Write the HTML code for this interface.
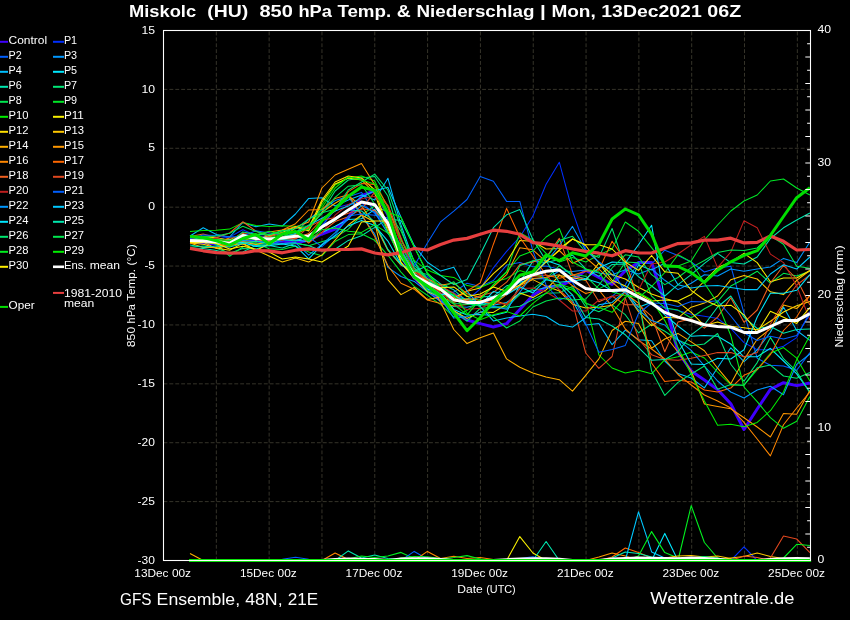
<!DOCTYPE html><html><head><meta charset="utf-8"><title>Miskolc GFS Ensemble</title>
<style>html,body{margin:0;padding:0;background:#000;}svg{display:block;will-change:transform;opacity:0.999}text{font-family:"Liberation Sans",sans-serif;fill:#fff}</style></head><body>
<svg width="850" height="620" viewBox="0 0 850 620">
<rect width="850" height="620" fill="#000"/>
<g stroke="#37352b" stroke-width="1" stroke-dasharray="3.9 2" fill="none">
<line x1="216.32" y1="560.5" x2="216.32" y2="30.5"/>
<line x1="269.14" y1="560.5" x2="269.14" y2="30.5"/>
<line x1="321.96" y1="560.5" x2="321.96" y2="30.5"/>
<line x1="374.78" y1="560.5" x2="374.78" y2="30.5"/>
<line x1="427.60" y1="560.5" x2="427.60" y2="30.5"/>
<line x1="480.42" y1="560.5" x2="480.42" y2="30.5"/>
<line x1="533.24" y1="560.5" x2="533.24" y2="30.5"/>
<line x1="586.06" y1="560.5" x2="586.06" y2="30.5"/>
<line x1="638.88" y1="560.5" x2="638.88" y2="30.5"/>
<line x1="691.70" y1="560.5" x2="691.70" y2="30.5"/>
<line x1="744.52" y1="560.5" x2="744.52" y2="30.5"/>
<line x1="797.34" y1="560.5" x2="797.34" y2="30.5"/>
<line x1="163.5" y1="501.61" x2="810.5" y2="501.61"/>
<line x1="163.5" y1="442.72" x2="810.5" y2="442.72"/>
<line x1="163.5" y1="383.83" x2="810.5" y2="383.83"/>
<line x1="163.5" y1="324.94" x2="810.5" y2="324.94"/>
<line x1="163.5" y1="266.06" x2="810.5" y2="266.06"/>
<line x1="163.5" y1="207.17" x2="810.5" y2="207.17"/>
<line x1="163.5" y1="148.28" x2="810.5" y2="148.28"/>
<line x1="163.5" y1="89.39" x2="810.5" y2="89.39"/>
</g>
<clipPath id="c"><rect x="163.5" y="29.5" width="647.5" height="533.0"/></clipPath>
<g clip-path="url(#c)">
<polyline points="190.0,242.0 203.2,243.0 216.4,244.0 229.6,246.0 242.8,239.0 255.9,241.0 269.1,242.0 282.3,241.0 295.5,243.0 308.7,240.0 321.9,234.0 335.1,229.0 348.3,218.0 361.5,196.0 374.7,190.5 387.9,215.0 401.0,256.0 414.2,278.0 427.4,290.0 440.6,300.0 453.8,312.0 467.0,320.0 480.2,323.6 493.4,327.0 506.6,323.6 519.8,309.5 532.9,295.3 546.1,287.0 559.3,286.0 572.5,280.4 585.7,270.3 598.9,277.4 612.1,284.5 625.3,270.7 638.5,262.5 651.6,262.5 664.8,303.0 678.0,352.0 691.2,371.0 704.4,380.0 717.6,389.6 730.8,403.8 744.0,429.5 757.2,409.0 770.4,389.3 783.5,382.7 796.7,385.6 809.9,383.0" fill="none" stroke="#4000ff" stroke-width="3.0" stroke-linejoin="round" />
<polyline points="190.0,238.8 203.2,238.9 216.4,239.0 229.6,237.1 242.8,229.8 255.9,235.6 269.1,236.9 282.3,238.2 295.5,236.9 308.7,235.6 321.9,227.0 335.1,208.1 348.3,204.5 361.5,202.9 374.7,213.7 387.9,226.7 401.0,254.2 414.2,268.1 427.4,276.8 440.6,288.5 453.8,292.9 467.0,300.0 480.2,289.0 493.4,267.8 506.6,251.3 519.8,237.2 532.9,216.0 546.1,184.2 559.3,162.2 572.5,211.2 585.7,249.0 598.9,262.0 612.1,275.0 625.3,288.0 638.5,298.0 651.6,304.0 664.8,307.8 678.0,310.6 691.2,314.2 704.4,316.3 717.6,318.5 730.8,328.4 744.0,342.6 757.2,349.7 770.4,349.7 783.5,346.2 796.7,337.6 809.9,311.4" fill="none" stroke="#0030ff" stroke-width="1.05" stroke-linejoin="round" />
<polyline points="190.0,238.7 203.2,240.9 216.4,243.2 229.6,244.8 242.8,243.0 255.9,245.7 269.1,245.4 282.3,240.4 295.5,240.2 308.7,236.7 321.9,225.4 335.1,209.8 348.3,196.7 361.5,192.4 374.7,211.7 387.9,225.8 401.0,256.0 414.2,271.9 427.4,283.5 440.6,293.9 453.8,292.1 467.0,283.3 480.2,286.5 493.4,280.5 506.6,265.1 519.8,262.6 532.9,266.7 546.1,265.9 559.3,269.2 572.5,282.4 585.7,303.2 598.9,308.6 612.1,296.3 625.3,284.8 638.5,261.7 651.6,264.0 664.8,250.2 678.0,255.5 691.2,262.0 704.4,272.0 717.6,268.0 730.8,266.2 744.0,313.0 757.2,358.2 770.4,365.3 783.5,366.0 796.7,370.3 809.9,352.6" fill="none" stroke="#0060ff" stroke-width="1.05" stroke-linejoin="round" />
<polyline points="190.0,241.8 203.2,241.2 216.4,241.5 229.6,239.4 242.8,238.0 255.9,237.0 269.1,238.9 282.3,240.8 295.5,233.5 308.7,219.1 321.9,209.8 335.1,200.6 348.3,196.4 361.5,215.4 374.7,234.1 387.9,267.4 401.0,276.5 414.2,281.4 427.4,291.9 440.6,301.5 453.8,306.6 467.0,307.2 480.2,304.0 493.4,299.3 506.6,293.2 519.8,282.2 532.9,278.6 546.1,278.7 559.3,271.0 572.5,271.4 585.7,270.1 598.9,273.0 612.1,274.7 625.3,269.7 638.5,274.0 651.6,269.0 664.8,280.3 678.0,289.6 691.2,283.2 704.4,274.7 717.6,276.0 730.8,269.0 744.0,271.2 757.2,269.0 770.4,267.0 783.5,258.4 796.7,262.6 809.9,242.0" fill="none" stroke="#0098ff" stroke-width="1.05" stroke-linejoin="round" />
<polyline points="190.0,236.0 203.2,227.8 216.4,234.5 229.6,237.0 242.8,222.4 255.9,226.8 269.1,224.0 282.3,226.0 295.5,214.0 308.7,198.4 321.9,197.8 335.1,206.0 348.3,200.0 361.5,195.0 374.7,200.0 387.9,178.2 401.0,225.0 414.2,262.0 427.4,281.8 440.6,285.0 453.8,296.5 467.0,299.5 480.2,302.3 493.4,305.3 506.6,302.4 519.8,293.2 532.9,290.8 546.1,287.4 559.3,284.6 572.5,300.6 585.7,324.9 598.9,323.6 612.1,344.7 625.3,330.1 638.5,339.7 651.6,340.7 664.8,361.0 678.0,373.6 691.2,378.0 704.4,387.9 717.6,367.7 730.8,347.8 744.0,361.7 757.2,349.8 770.4,332.2 783.5,307.0 796.7,330.5 809.9,340.4" fill="none" stroke="#00c0ff" stroke-width="1.05" stroke-linejoin="round" />
<polyline points="190.0,238.5 203.2,240.4 216.4,244.2 229.6,243.5 242.8,241.3 255.9,244.3 269.1,243.9 282.3,237.7 295.5,240.1 308.7,241.8 321.9,232.5 335.1,226.2 348.3,219.5 361.5,218.8 374.7,209.4 387.9,226.7 401.0,249.6 414.2,277.8 427.4,289.1 440.6,292.8 453.8,309.4 467.0,315.0 480.2,314.5 493.4,315.5 506.6,312.3 519.8,284.5 532.9,275.3 546.1,260.4 559.3,265.0 572.5,275.8 585.7,278.8 598.9,282.8 612.1,290.9 625.3,290.8 638.5,307.3 651.6,302.2 664.8,314.8 678.0,326.0 691.2,336.2 704.4,335.5 717.6,336.2 730.8,344.0 744.0,356.8 757.2,356.8 770.4,348.3 783.5,361.0 796.7,373.9 809.9,392.0" fill="none" stroke="#00e8ff" stroke-width="1.05" stroke-linejoin="round" />
<polyline points="190.0,248.0 203.2,248.6 216.4,250.5 229.6,253.8 242.8,251.9 255.9,245.4 269.1,245.6 282.3,247.9 295.5,243.3 308.7,245.4 321.9,251.0 335.1,249.2 348.3,240.4 361.5,235.8 374.7,227.4 387.9,219.0 401.0,220.4 414.2,246.7 427.4,273.7 440.6,284.0 453.8,289.8 467.0,301.3 480.2,297.1 493.4,296.3 506.6,285.8 519.8,282.4 532.9,261.1 546.1,262.6 559.3,259.5 572.5,255.2 585.7,268.9 598.9,276.4 612.1,264.4 625.3,264.0 638.5,276.7 651.6,286.0 664.8,296.0 678.0,284.6 691.2,274.7 704.4,263.4 717.6,253.4 730.8,262.6 744.0,264.0 757.2,257.0 770.4,238.5 783.5,227.8 796.7,220.0 809.9,213.0" fill="none" stroke="#00e8b0" stroke-width="1.05" stroke-linejoin="round" />
<polyline points="190.0,247.3 203.2,246.1 216.4,248.2 229.6,253.2 242.8,248.5 255.9,249.1 269.1,245.1 282.3,234.8 295.5,226.7 308.7,230.0 321.9,212.0 335.1,191.0 348.3,180.0 361.5,178.0 374.7,176.5 387.9,196.0 401.0,240.0 414.2,265.2 427.4,278.9 440.6,293.1 453.8,310.8 467.0,321.0 480.2,308.3 493.4,307.4 506.6,308.0 519.8,306.3 532.9,299.6 546.1,293.3 559.3,292.8 572.5,286.5 585.7,306.8 598.9,311.7 612.1,304.9 625.3,314.7 638.5,332.8 651.6,324.3 664.8,331.2 678.0,340.1 691.2,345.7 704.4,344.0 717.6,333.5 730.8,364.3 744.0,381.2 757.2,362.6 770.4,337.4 783.5,358.7 796.7,371.4 809.9,393.1" fill="none" stroke="#00e878" stroke-width="1.05" stroke-linejoin="round" />
<polyline points="190.0,238.0 203.2,240.0 216.4,244.0 229.6,256.2 242.8,247.0 255.9,243.0 269.1,244.3 282.3,243.4 295.5,242.9 308.7,245.7 321.9,241.7 335.1,237.4 348.3,229.1 361.5,215.1 374.7,205.7 387.9,212.0 401.0,231.0 414.2,261.2 427.4,279.3 440.6,287.1 453.8,295.9 467.0,300.8 480.2,304.4 493.4,306.4 506.6,306.7 519.8,294.6 532.9,289.2 546.1,278.9 559.3,265.7 572.5,274.2 585.7,276.2 598.9,288.9 612.1,282.0 625.3,262.1 638.5,262.8 651.6,296.2 664.8,307.9 678.0,310.1 691.2,318.0 704.4,308.8 717.6,301.7 730.8,286.0 744.0,279.0 757.2,271.2 770.4,283.2 783.5,273.3 796.7,276.0 809.9,271.2" fill="none" stroke="#00e850" stroke-width="1.05" stroke-linejoin="round" />
<polyline points="190.0,241.1 203.2,241.2 216.4,244.1 229.6,244.9 242.8,241.6 255.9,242.9 269.1,248.7 282.3,249.4 295.5,245.9 308.7,252.1 321.9,255.8 335.1,241.5 348.3,234.6 361.5,233.7 374.7,240.3 387.9,255.3 401.0,272.1 414.2,286.4 427.4,295.3 440.6,304.6 453.8,316.8 467.0,310.5 480.2,300.2 493.4,284.6 506.6,272.0 519.8,232.8 532.9,239.9 546.1,253.4 559.3,262.0 572.5,257.6 585.7,262.0 598.9,255.0 612.1,249.0 625.3,222.0 638.5,231.3 651.6,247.7 664.8,264.7 678.0,266.0 691.2,261.0 704.4,240.0 717.6,225.0 730.8,211.0 744.0,201.0 757.2,195.0 770.4,181.0 783.5,179.0 796.7,188.0 809.9,195.0" fill="none" stroke="#00e828" stroke-width="1.05" stroke-linejoin="round" />
<polyline points="190.0,231.5 203.2,230.4 216.4,230.3 229.6,229.1 242.8,222.6 255.9,225.4 269.1,226.5 282.3,225.7 295.5,226.2 308.7,226.0 321.9,205.0 335.1,185.0 348.3,178.0 361.5,176.0 374.7,181.0 387.9,208.0 401.0,240.1 414.2,260.4 427.4,270.1 440.6,275.5 453.8,277.4 467.0,285.6 480.2,287.6 493.4,281.9 506.6,278.4 519.8,270.6 532.9,274.6 546.1,278.1 559.3,287.0 572.5,290.0 585.7,301.0 598.9,355.0 612.1,368.0 625.3,373.0 638.5,370.3 651.6,373.8 664.8,359.6 678.0,356.8 691.2,352.0 704.4,358.0 717.6,372.0 730.8,385.0 744.0,385.2 757.2,369.6 770.4,353.3 783.5,347.6 796.7,358.2 809.9,381.0" fill="none" stroke="#00f000" stroke-width="1.05" stroke-linejoin="round" />
<polyline points="190.0,236.9 203.2,236.7 216.4,237.8 229.6,240.3 242.8,233.3 255.9,240.3 269.1,235.4 282.3,232.5 295.5,226.6 308.7,231.0 321.9,202.0 335.1,184.0 348.3,178.0 361.5,180.0 374.7,193.0 387.9,232.0 401.0,251.2 414.2,277.2 427.4,291.4 440.6,297.2 453.8,310.6 467.0,318.4 480.2,312.1 493.4,312.4 506.6,304.2 519.8,292.9 532.9,297.6 546.1,289.9 559.3,275.4 572.5,277.7 585.7,280.2 598.9,263.0 612.1,280.3 625.3,286.0 638.5,293.8 651.6,301.0 664.8,300.0 678.0,301.0 691.2,294.5 704.4,281.0 717.6,267.6 730.8,262.0 744.0,253.4 757.2,262.6 770.4,281.8 783.5,278.0 796.7,278.0 809.9,270.5" fill="none" stroke="#f8f000" stroke-width="1.05" stroke-linejoin="round" />
<polyline points="190.0,243.1 203.2,244.2 216.4,247.9 229.6,250.2 242.8,243.1 255.9,250.5 269.1,243.9 282.3,237.9 295.5,227.9 308.7,228.0 321.9,200.0 335.1,182.0 348.3,176.0 361.5,178.0 374.7,190.0 387.9,228.0 401.0,263.1 414.2,277.8 427.4,284.3 440.6,290.8 453.8,297.7 467.0,291.2 480.2,287.9 493.4,273.7 506.6,262.0 519.8,240.6 532.9,241.3 546.1,249.0 559.3,248.4 572.5,239.0 585.7,245.5 598.9,263.3 612.1,274.7 625.3,279.0 638.5,287.3 651.6,294.0 664.8,298.5 678.0,301.9 691.2,312.4 704.4,325.6 717.6,322.0 730.8,326.3 744.0,327.7 757.2,329.8 770.4,321.3 783.5,312.0 796.7,305.7 809.9,301.4" fill="none" stroke="#ffe000" stroke-width="1.05" stroke-linejoin="round" />
<polyline points="190.0,241.3 203.2,242.1 216.4,248.4 229.6,244.9 242.8,244.1 255.9,250.0 269.1,256.0 282.3,262.0 295.5,258.0 308.7,262.0 321.9,255.0 335.1,240.0 348.3,225.0 361.5,215.0 374.7,222.0 387.9,279.7 401.0,294.6 414.2,287.5 427.4,299.6 440.6,297.0 453.8,302.2 467.0,298.8 480.2,300.3 493.4,304.7 506.6,294.4 519.8,285.4 532.9,279.6 546.1,286.1 559.3,291.1 572.5,304.2 585.7,308.1 598.9,307.2 612.1,305.2 625.3,292.3 638.5,311.6 651.6,325.8 664.8,317.2 678.0,317.9 691.2,307.2 704.4,303.1 717.6,296.0 730.8,279.7 744.0,275.4 757.2,279.0 770.4,291.8 783.5,294.6 796.7,280.4 809.9,270.5" fill="none" stroke="#ffc800" stroke-width="1.05" stroke-linejoin="round" />
<polyline points="190.0,243.0 203.2,247.6 216.4,247.5 229.6,242.8 242.8,242.1 255.9,244.6 269.1,241.3 282.3,236.8 295.5,234.3 308.7,227.9 321.9,212.3 335.1,203.2 348.3,195.6 361.5,206.0 374.7,224.6 387.9,250.2 401.0,265.1 414.2,272.0 427.4,281.0 440.6,302.0 453.8,329.5 467.0,343.6 480.2,337.7 493.4,333.0 506.6,358.9 519.8,367.2 532.9,373.0 546.1,377.0 559.3,379.7 572.5,391.2 585.7,375.4 598.9,358.9 612.1,330.5 625.3,321.3 638.5,323.4 651.6,348.3 664.8,339.0 678.0,333.4 691.2,341.9 704.4,350.8 717.6,368.2 730.8,383.8 744.0,359.5 757.2,339.3 770.4,328.9 783.5,304.9 796.7,308.5 809.9,295.9" fill="none" stroke="#ffb000" stroke-width="1.05" stroke-linejoin="round" />
<polyline points="190.0,241.8 203.2,240.9 216.4,241.6 229.6,242.7 242.8,241.5 255.9,235.8 269.1,232.0 282.3,230.0 295.5,227.0 308.7,222.0 321.9,188.0 335.1,175.0 348.3,169.2 361.5,163.5 374.7,184.8 387.9,215.0 401.0,250.0 414.2,271.9 427.4,278.8 440.6,285.2 453.8,283.1 467.0,293.7 480.2,297.5 493.4,286.6 506.6,274.7 519.8,247.7 532.9,249.8 546.1,261.9 559.3,250.5 572.5,263.3 585.7,257.6 598.9,269.0 612.1,282.1 625.3,293.5 638.5,303.1 651.6,323.0 664.8,335.0 678.0,352.0 691.2,371.0 704.4,404.0 717.6,406.4 730.8,408.8 744.0,417.7 757.2,427.0 770.4,437.0 783.5,413.5 796.7,414.2 809.9,390.6" fill="none" stroke="#ff9800" stroke-width="1.05" stroke-linejoin="round" />
<polyline points="190.0,241.0 203.2,240.8 216.4,242.3 229.6,238.0 242.8,237.8 255.9,237.8 269.1,236.9 282.3,229.9 295.5,223.7 308.7,210.0 321.9,209.5 335.1,198.4 348.3,194.8 361.5,214.3 374.7,236.5 387.9,265.8 401.0,283.3 414.2,289.2 427.4,300.0 440.6,303.5 453.8,306.1 467.0,304.4 480.2,300.8 493.4,300.3 506.6,304.6 519.8,288.6 532.9,278.4 546.1,277.3 559.3,274.7 572.5,285.8 585.7,293.5 598.9,290.0 612.1,306.4 625.3,329.0 638.5,340.4 651.6,349.0 664.8,359.0 678.0,374.5 691.2,385.0 704.4,395.0 717.6,401.0 730.8,408.0 744.0,422.4 757.2,439.0 770.4,455.9 783.5,424.8 796.7,408.0 809.9,391.8" fill="none" stroke="#ff8800" stroke-width="1.05" stroke-linejoin="round" />
<polyline points="190.0,242.1 203.2,242.3 216.4,243.6 229.6,246.6 242.8,240.7 255.9,241.8 269.1,239.0 282.3,237.9 295.5,238.5 308.7,233.5 321.9,219.0 335.1,211.2 348.3,191.6 361.5,183.6 374.7,184.5 387.9,206.1 401.0,243.8 414.2,268.4 427.4,281.4 440.6,293.4 453.8,300.0 467.0,291.0 480.2,283.0 493.4,244.2 506.6,208.4 519.8,237.2 532.9,256.0 546.1,275.0 559.3,278.2 572.5,275.3 585.7,271.2 598.9,270.0 612.1,241.3 625.3,260.5 638.5,300.0 651.6,363.0 664.8,381.6 678.0,380.0 691.2,382.0 704.4,390.0 717.6,392.0 730.8,388.0 744.0,375.3 757.2,369.6 770.4,354.7 783.5,330.5 796.7,317.0 809.9,295.0" fill="none" stroke="#ff6800" stroke-width="1.05" stroke-linejoin="round" />
<polyline points="190.0,236.5 203.2,234.0 216.4,237.5 229.6,233.0 242.8,221.8 255.9,231.0 269.1,237.0 282.3,233.0 295.5,232.6 308.7,243.2 321.9,232.1 335.1,221.5 348.3,216.7 361.5,208.8 374.7,210.4 387.9,226.3 401.0,256.1 414.2,276.7 427.4,284.5 440.6,287.8 453.8,297.8 467.0,300.8 480.2,295.8 493.4,292.3 506.6,282.2 519.8,264.6 532.9,262.0 546.1,257.6 559.3,238.4 572.5,274.7 585.7,280.0 598.9,301.8 612.1,296.1 625.3,304.8 638.5,304.7 651.6,316.3 664.8,351.7 678.0,322.1 691.2,318.8 704.4,328.1 717.6,317.1 730.8,297.7 744.0,322.3 757.2,310.0 770.4,283.0 783.5,265.5 796.7,279.0 809.9,305.0" fill="none" stroke="#f06020" stroke-width="1.05" stroke-linejoin="round" />
<polyline points="190.0,242.8 203.2,240.6 216.4,237.9 229.6,241.6 242.8,236.9 255.9,235.7 269.1,238.7 282.3,238.9 295.5,239.0 308.7,226.7 321.9,220.3 335.1,217.6 348.3,213.2 361.5,209.1 374.7,192.1 387.9,205.3 401.0,237.8 414.2,270.1 427.4,280.0 440.6,285.6 453.8,293.5 467.0,304.1 480.2,301.7 493.4,302.5 506.6,294.8 519.8,285.5 532.9,276.5 546.1,275.0 559.3,290.0 572.5,302.4 585.7,353.0 598.9,368.4 612.1,356.5 625.3,297.8 638.5,339.0 651.6,354.7 664.8,359.6 678.0,360.3 691.2,358.2 704.4,355.4 717.6,352.6 730.8,352.6 744.0,356.8 757.2,352.6 770.4,324.0 783.5,302.8 796.7,285.0 809.9,275.0" fill="none" stroke="#e04820" stroke-width="1.05" stroke-linejoin="round" />
<polyline points="190.0,238.1 203.2,240.0 216.4,238.5 229.6,241.5 242.8,232.8 255.9,235.8 269.1,240.5 282.3,240.2 295.5,237.2 308.7,237.7 321.9,233.0 335.1,215.2 348.3,204.5 361.5,198.7 374.7,196.2 387.9,211.0 401.0,243.4 414.2,270.2 427.4,284.7 440.6,292.7 453.8,303.9 467.0,309.4 480.2,308.2 493.4,302.4 506.6,304.6 519.8,288.6 532.9,288.0 546.1,292.0 559.3,300.0 572.5,311.0 585.7,311.0 598.9,300.0 612.1,296.7 625.3,293.3 638.5,290.0 651.6,264.0 664.8,262.0 678.0,254.0 691.2,244.8 704.4,236.4 717.6,267.6 730.8,252.0 744.0,220.7 757.2,227.8 770.4,254.1 783.5,262.6 796.7,286.0 809.9,320.0" fill="none" stroke="#c02020" stroke-width="1.05" stroke-linejoin="round" />
<polyline points="190.0,238.8 203.2,235.0 216.4,235.6 229.6,237.1 242.8,236.2 255.9,230.8 269.1,233.1 282.3,234.8 295.5,235.3 308.7,237.0 321.9,246.6 335.1,235.0 348.3,216.0 361.5,214.1 374.7,215.3 387.9,218.0 401.0,247.0 414.2,266.0 427.4,243.0 440.6,221.8 453.8,211.2 467.0,199.5 480.2,176.4 493.4,181.3 506.6,201.4 519.8,201.4 532.9,251.0 546.1,285.0 559.3,300.0 572.5,295.0 585.7,323.6 598.9,352.2 612.1,349.5 625.3,345.4 638.5,313.5 651.6,303.0 664.8,303.5 678.0,306.4 691.2,301.4 704.4,302.0 717.6,300.7 730.8,316.0 744.0,332.7 757.2,340.5 770.4,336.2 783.5,339.0 796.7,335.5 809.9,314.2" fill="none" stroke="#0060ff" stroke-width="1.05" stroke-linejoin="round" />
<polyline points="190.0,241.2 203.2,242.6 216.4,243.2 229.6,244.1 242.8,240.4 255.9,241.3 269.1,243.6 282.3,243.8 295.5,242.6 308.7,255.1 321.9,244.5 335.1,232.7 348.3,218.6 361.5,205.3 374.7,212.4 387.9,233.4 401.0,249.0 414.2,275.0 427.4,290.1 440.6,297.9 453.8,318.1 467.0,316.5 480.2,312.5 493.4,306.2 506.6,309.2 519.8,292.2 532.9,275.0 546.1,262.0 559.3,245.5 572.5,226.4 585.7,250.5 598.9,262.0 612.1,270.6 625.3,292.2 638.5,310.0 651.6,320.6 664.8,325.0 678.0,339.7 691.2,350.4 704.4,366.0 717.6,381.0 730.8,392.0 744.0,398.0 757.2,390.0 770.4,386.2 783.5,394.8 796.7,364.3 809.9,354.0" fill="none" stroke="#0098ff" stroke-width="1.05" stroke-linejoin="round" />
<polyline points="190.0,236.8 203.2,240.2 216.4,241.6 229.6,242.8 242.8,234.6 255.9,237.3 269.1,238.3 282.3,237.2 295.5,233.5 308.7,225.3 321.9,218.3 335.1,211.1 348.3,206.1 361.5,197.3 374.7,190.8 387.9,187.2 401.0,217.2 414.2,245.4 427.4,262.3 440.6,271.1 453.8,267.3 467.0,291.0 480.2,306.4 493.4,320.9 506.6,318.0 519.8,316.0 532.9,314.2 546.1,316.5 559.3,324.8 572.5,327.1 585.7,317.7 598.9,304.8 612.1,302.4 625.3,291.1 638.5,264.9 651.6,269.9 664.8,263.2 678.0,284.8 691.2,288.0 704.4,286.0 717.6,285.4 730.8,287.5 744.0,289.6 757.2,289.6 770.4,274.0 783.5,264.8 796.7,269.0 809.9,257.0" fill="none" stroke="#00c8ff" stroke-width="1.05" stroke-linejoin="round" />
<polyline points="190.0,239.9 203.2,239.7 216.4,241.2 229.6,243.4 242.8,242.4 255.9,246.4 269.1,245.7 282.3,244.0 295.5,245.9 308.7,258.9 321.9,244.9 335.1,235.9 348.3,225.9 361.5,220.5 374.7,225.6 387.9,241.1 401.0,264.3 414.2,274.1 427.4,284.6 440.6,294.3 453.8,295.1 467.0,303.1 480.2,305.6 493.4,291.4 506.6,294.8 519.8,286.8 532.9,292.9 546.1,279.7 559.3,282.2 572.5,280.9 585.7,279.2 598.9,267.8 612.1,262.0 625.3,263.0 638.5,244.8 651.6,225.2 664.8,300.0 678.0,340.0 691.2,364.0 704.4,364.6 717.6,358.2 730.8,359.0 744.0,349.7 757.2,317.0 770.4,293.2 783.5,293.2 796.7,290.3 809.9,274.7" fill="none" stroke="#00e8ff" stroke-width="1.05" stroke-linejoin="round" />
<polyline points="190.0,245.1 203.2,247.3 216.4,246.1 229.6,247.0 242.8,243.5 255.9,241.3 269.1,242.9 282.3,239.3 295.5,241.1 308.7,236.6 321.9,227.3 335.1,220.2 348.3,209.8 361.5,210.9 374.7,221.9 387.9,249.4 401.0,264.3 414.2,271.2 427.4,266.0 440.6,275.5 453.8,284.5 467.0,279.6 480.2,254.5 493.4,227.7 506.6,214.8 519.8,209.6 532.9,239.5 546.1,260.7 559.3,282.5 572.5,295.0 585.7,317.6 598.9,319.0 612.1,326.0 625.3,334.8 638.5,347.6 651.6,360.3 664.8,359.6 678.0,351.8 691.2,334.8 704.4,324.8 717.6,307.0 730.8,296.0 744.0,317.1 757.2,328.5 770.4,326.5 783.5,333.2 796.7,329.6 809.9,329.0" fill="none" stroke="#00e8b0" stroke-width="1.05" stroke-linejoin="round" />
<polyline points="190.0,235.6 203.2,238.8 216.4,239.9 229.6,243.1 242.8,231.9 255.9,234.3 269.1,235.1 282.3,230.9 295.5,228.8 308.7,219.0 321.9,212.7 335.1,209.2 348.3,190.0 361.5,182.0 374.7,174.2 387.9,190.0 401.0,228.0 414.2,268.0 427.4,278.9 440.6,289.3 453.8,303.5 467.0,304.3 480.2,305.0 493.4,303.3 506.6,293.2 519.8,265.7 532.9,260.7 546.1,258.0 559.3,240.6 572.5,236.3 585.7,252.0 598.9,257.6 612.1,228.5 625.3,268.0 638.5,300.0 651.6,371.0 664.8,395.4 678.0,382.4 691.2,374.0 704.4,366.0 717.6,389.3 730.8,384.4 744.0,385.3 757.2,367.7 770.4,365.1 783.5,376.0 796.7,378.3 809.9,372.5" fill="none" stroke="#00e870" stroke-width="1.05" stroke-linejoin="round" />
<polyline points="190.0,237.1 203.2,237.1 216.4,236.0 229.6,233.2 242.8,226.2 255.9,231.6 269.1,234.8 282.3,230.5 295.5,232.0 308.7,225.4 321.9,214.0 335.1,197.3 348.3,186.2 361.5,184.8 374.7,204.0 387.9,232.3 401.0,259.1 414.2,271.0 427.4,274.6 440.6,288.1 453.8,281.8 467.0,295.9 480.2,307.4 493.4,317.2 506.6,328.0 519.8,321.0 532.9,307.0 546.1,301.0 559.3,297.9 572.5,300.0 585.7,299.0 598.9,285.0 612.1,268.0 625.3,254.8 638.5,257.0 651.6,274.7 664.8,284.6 678.0,277.5 691.2,267.6 704.4,260.5 717.6,252.6 730.8,250.0 744.0,250.6 757.2,248.0 770.4,235.7 783.5,244.2 796.7,266.2 809.9,268.3" fill="none" stroke="#00e850" stroke-width="1.05" stroke-linejoin="round" />
<polyline points="190.0,241.3 203.2,241.1 216.4,239.3 229.6,240.6 242.8,236.6 255.9,234.7 269.1,231.2 282.3,234.8 295.5,235.4 308.7,241.1 321.9,229.7 335.1,227.9 348.3,231.2 361.5,232.4 374.7,224.8 387.9,233.1 401.0,244.3 414.2,273.3 427.4,290.3 440.6,296.3 453.8,304.1 467.0,314.9 480.2,299.4 493.4,284.9 506.6,271.7 519.8,256.0 532.9,251.0 546.1,237.0 559.3,228.5 572.5,262.0 585.7,269.0 598.9,272.0 612.1,291.9 625.3,295.4 638.5,297.8 651.6,286.5 664.8,272.5 678.0,254.8 691.2,261.9 704.4,283.2 717.6,303.0 730.8,335.5 744.0,387.0 757.2,401.7 770.4,417.7 783.5,428.3 796.7,421.3 809.9,396.5" fill="none" stroke="#00f020" stroke-width="1.05" stroke-linejoin="round" />
<polyline points="190.0,240.1 203.2,239.3 216.4,241.0 229.6,240.8 242.8,238.8 255.9,239.6 269.1,238.1 282.3,234.2 295.5,232.5 308.7,229.0 321.9,208.0 335.1,188.0 348.3,177.0 361.5,180.0 374.7,184.0 387.9,212.0 401.0,217.3 414.2,247.0 427.4,272.7 440.6,288.1 453.8,294.6 467.0,313.3 480.2,319.7 493.4,314.8 506.6,311.6 519.8,316.0 532.9,303.4 546.1,293.1 559.3,284.1 572.5,288.5 585.7,303.3 598.9,307.6 612.1,312.3 625.3,297.2 638.5,292.5 651.6,300.0 664.8,320.6 678.0,347.6 691.2,374.5 704.4,401.0 717.6,425.3 730.8,424.3 744.0,426.7 757.2,422.4 770.4,410.7 783.5,392.0 796.7,359.7 809.9,335.5" fill="none" stroke="#00f000" stroke-width="1.05" stroke-linejoin="round" />
<polyline points="190.0,242.5 203.2,242.6 216.4,243.5 229.6,248.9 242.8,246.2 255.9,249.3 269.1,252.0 282.3,259.0 295.5,257.0 308.7,259.0 321.9,262.0 335.1,254.0 348.3,246.0 361.5,222.0 374.7,221.0 387.9,221.0 401.0,262.0 414.2,278.3 427.4,285.6 440.6,287.7 453.8,286.9 467.0,296.5 480.2,294.0 493.4,287.0 506.6,291.2 519.8,285.0 532.9,275.0 546.1,262.0 559.3,250.0 572.5,239.0 585.7,244.8 598.9,244.8 612.1,249.0 625.3,262.0 638.5,270.4 651.6,255.5 664.8,271.8 678.0,273.2 691.2,290.3 704.4,300.0 717.6,306.0 730.8,305.2 744.0,314.8 757.2,332.5 770.4,311.3 783.5,317.3 796.7,323.4 809.9,307.3" fill="none" stroke="#fff000" stroke-width="1.05" stroke-linejoin="round" />
<polyline points="190.0,240.4 203.2,241.0 216.4,241.8 229.6,243.2 242.8,235.5 255.9,238.5 269.1,238.9 282.3,237.9 295.5,236.2 308.7,235.9 321.9,226.9 335.1,219.0 348.3,210.0 361.5,202.0 374.7,204.7 387.9,223.4 401.0,255.0 414.2,275.5 427.4,282.8 440.6,289.2 453.8,299.8 467.0,302.4 480.2,302.4 493.4,297.6 506.6,293.2 519.8,279.8 532.9,274.7 546.1,271.3 559.3,270.0 572.5,280.3 585.7,288.6 598.9,290.6 612.1,290.6 625.3,289.8 638.5,296.9 651.6,303.3 664.8,312.4 678.0,317.1 691.2,320.6 704.4,324.7 717.6,326.5 730.8,327.2 744.0,332.4 757.2,332.4 770.4,326.5 783.5,320.6 796.7,320.6 809.9,313.6" fill="none" stroke="#ffffff" stroke-width="3.0" stroke-linejoin="round" />
<polyline points="190.0,248.4 203.2,250.8 216.4,252.6 229.6,253.1 242.8,253.0 255.9,250.7 269.1,250.8 282.3,252.8 295.5,250.2 308.7,248.9 321.9,250.2 335.1,249.5 348.3,249.5 361.5,248.9 374.7,253.0 387.9,254.9 401.0,252.7 414.2,248.5 427.4,250.0 440.6,244.5 453.8,240.1 467.0,238.4 480.2,234.3 493.4,230.2 506.6,231.3 519.8,234.3 532.9,242.6 546.1,243.8 559.3,246.1 572.5,249.0 585.7,251.3 598.9,253.2 612.1,255.8 625.3,250.7 638.5,253.0 651.6,253.0 664.8,248.3 678.0,243.6 691.2,242.9 704.4,240.1 717.6,240.1 730.8,238.2 744.0,242.9 757.2,242.4 770.4,235.9 783.5,241.3 796.7,250.0 809.9,249.5" fill="none" stroke="#e84040" stroke-width="3.2" stroke-linejoin="round" />
<polyline points="190.0,236.5 203.2,237.6 216.4,240.9 229.6,245.1 242.8,238.5 255.9,234.5 269.1,243.7 282.3,234.0 295.5,231.4 308.7,239.8 321.9,221.0 335.1,208.9 348.3,196.3 361.5,187.0 374.7,190.5 387.9,213.2 401.0,254.0 414.2,276.9 427.4,286.0 440.6,296.0 453.8,313.0 467.0,330.7 480.2,317.7 493.4,301.2 506.6,289.5 519.8,275.3 532.9,271.8 546.1,255.0 559.3,260.7 572.5,252.8 585.7,256.0 598.9,244.2 612.1,219.0 625.3,209.0 638.5,214.9 651.6,234.2 664.8,266.0 678.0,266.5 691.2,272.6 704.4,282.5 717.6,270.2 730.8,261.8 744.0,255.4 757.2,250.7 770.4,235.4 783.5,216.5 796.7,197.7 809.9,187.8" fill="none" stroke="#00e000" stroke-width="3.0" stroke-linejoin="round" />
</g>
<g clip-path="url(#c)">
<polyline points="190.0,553.4 203.2,560.5 216.4,560.5 229.6,560.5 242.8,560.5 255.9,560.5 269.1,560.5 282.3,560.5 295.5,560.5 308.7,560.5 321.9,560.5 335.1,560.5 348.3,560.5 361.5,560.5 374.7,560.5 387.9,560.5 401.0,560.5 414.2,560.5 427.4,560.5 440.6,560.5 453.8,560.5 467.0,560.5 480.2,560.5 493.4,560.5 506.6,560.5 519.8,560.5 532.9,560.5 546.1,560.5 559.3,560.5 572.5,560.5 585.7,560.5 598.9,560.5 612.1,560.5 625.3,560.5 638.5,560.5 651.6,560.5 664.8,560.5 678.0,560.5 691.2,560.5 704.4,560.5 717.6,560.5 730.8,560.5 744.0,560.5 757.2,560.5 770.4,560.5 783.5,560.5 796.7,560.5 809.9,560.5" fill="none" stroke="#ffb000" stroke-width="1.1" stroke-linejoin="round" />
<polyline points="190.0,560.5 203.2,560.5 216.4,560.5 229.6,560.5 242.8,560.5 255.9,560.5 269.1,560.5 282.3,559.2 295.5,557.3 308.7,559.2 321.9,560.5 335.1,560.5 348.3,560.5 361.5,560.5 374.7,560.5 387.9,560.5 401.0,560.5 414.2,560.5 427.4,560.5 440.6,560.5 453.8,560.5 467.0,560.5 480.2,560.5 493.4,560.5 506.6,560.5 519.8,560.5 532.9,560.5 546.1,560.5 559.3,560.5 572.5,560.5 585.7,560.5 598.9,560.5 612.1,560.5 625.3,560.5 638.5,560.5 651.6,560.5 664.8,560.5 678.0,560.5 691.2,560.5 704.4,560.5 717.6,560.5 730.8,560.5 744.0,560.5 757.2,560.5 770.4,560.5 783.5,560.5 796.7,560.5 809.9,560.5" fill="none" stroke="#0060ff" stroke-width="1.1" stroke-linejoin="round" />
<polyline points="190.0,560.5 203.2,560.5 216.4,560.5 229.6,560.5 242.8,560.5 255.9,560.5 269.1,560.5 282.3,560.5 295.5,560.5 308.7,560.5 321.9,560.5 335.1,553.0 348.3,559.5 361.5,560.5 374.7,560.5 387.9,560.5 401.0,560.5 414.2,560.5 427.4,560.5 440.6,560.5 453.8,560.5 467.0,560.5 480.2,560.5 493.4,560.5 506.6,560.5 519.8,560.5 532.9,560.5 546.1,560.5 559.3,560.5 572.5,560.5 585.7,560.5 598.9,560.5 612.1,560.5 625.3,560.5 638.5,560.5 651.6,560.5 664.8,560.5 678.0,560.5 691.2,560.5 704.4,560.5 717.6,560.5 730.8,560.5 744.0,560.5 757.2,560.5 770.4,560.5 783.5,560.5 796.7,560.5 809.9,560.5" fill="none" stroke="#ff8800" stroke-width="1.1" stroke-linejoin="round" />
<polyline points="190.0,560.5 203.2,560.5 216.4,560.5 229.6,560.5 242.8,560.5 255.9,560.5 269.1,560.5 282.3,560.5 295.5,560.5 308.7,560.5 321.9,560.5 335.1,560.5 348.3,550.9 361.5,558.0 374.7,555.0 387.9,558.5 401.0,559.5 414.2,560.5 427.4,560.5 440.6,560.5 453.8,560.5 467.0,560.5 480.2,560.5 493.4,560.5 506.6,560.5 519.8,560.5 532.9,560.5 546.1,560.5 559.3,560.5 572.5,560.5 585.7,560.5 598.9,560.5 612.1,560.5 625.3,560.5 638.5,560.5 651.6,560.5 664.8,560.5 678.0,560.5 691.2,560.5 704.4,560.5 717.6,560.5 730.8,560.5 744.0,560.5 757.2,560.5 770.4,560.5 783.5,560.5 796.7,560.5 809.9,560.5" fill="none" stroke="#00e8b0" stroke-width="1.1" stroke-linejoin="round" />
<polyline points="190.0,560.5 203.2,560.5 216.4,560.5 229.6,560.5 242.8,560.5 255.9,560.5 269.1,560.5 282.3,560.5 295.5,560.5 308.7,560.5 321.9,560.5 335.1,560.5 348.3,559.0 361.5,556.0 374.7,557.5 387.9,556.0 401.0,552.4 414.2,558.5 427.4,560.5 440.6,560.5 453.8,560.5 467.0,560.5 480.2,560.5 493.4,560.5 506.6,560.5 519.8,560.5 532.9,560.5 546.1,560.5 559.3,560.5 572.5,560.5 585.7,560.5 598.9,560.5 612.1,560.5 625.3,560.5 638.5,560.5 651.6,560.5 664.8,560.5 678.0,560.5 691.2,560.5 704.4,560.5 717.6,560.5 730.8,560.5 744.0,560.5 757.2,560.5 770.4,560.5 783.5,560.5 796.7,560.5 809.9,560.5" fill="none" stroke="#00f020" stroke-width="1.1" stroke-linejoin="round" />
<polyline points="190.0,560.5 203.2,560.5 216.4,560.5 229.6,560.5 242.8,560.5 255.9,560.5 269.1,560.5 282.3,560.5 295.5,560.5 308.7,560.5 321.9,560.5 335.1,560.5 348.3,560.5 361.5,560.5 374.7,560.5 387.9,560.5 401.0,560.5 414.2,551.4 427.4,559.0 440.6,560.5 453.8,560.5 467.0,560.5 480.2,560.5 493.4,560.5 506.6,560.5 519.8,560.5 532.9,560.5 546.1,560.5 559.3,560.5 572.5,560.5 585.7,560.5 598.9,560.5 612.1,560.5 625.3,560.5 638.5,560.5 651.6,560.5 664.8,560.5 678.0,560.5 691.2,560.5 704.4,560.5 717.6,560.5 730.8,560.5 744.0,560.5 757.2,560.5 770.4,560.5 783.5,560.5 796.7,560.5 809.9,560.5" fill="none" stroke="#0060ff" stroke-width="1.1" stroke-linejoin="round" />
<polyline points="190.0,560.5 203.2,560.5 216.4,560.5 229.6,560.5 242.8,560.5 255.9,560.5 269.1,560.5 282.3,560.5 295.5,560.5 308.7,560.5 321.9,560.5 335.1,560.5 348.3,560.5 361.5,560.5 374.7,560.5 387.9,560.5 401.0,560.5 414.2,560.5 427.4,551.4 440.6,558.5 453.8,556.3 467.0,558.5 480.2,557.5 493.4,559.5 506.6,560.5 519.8,560.5 532.9,560.5 546.1,560.5 559.3,560.5 572.5,560.5 585.7,560.5 598.9,560.5 612.1,560.5 625.3,560.5 638.5,560.5 651.6,560.5 664.8,560.5 678.0,560.5 691.2,560.5 704.4,560.5 717.6,560.5 730.8,560.5 744.0,560.5 757.2,560.5 770.4,560.5 783.5,560.5 796.7,560.5 809.9,560.5" fill="none" stroke="#ff8800" stroke-width="1.1" stroke-linejoin="round" />
<polyline points="190.0,560.5 203.2,560.5 216.4,560.5 229.6,560.5 242.8,560.5 255.9,560.5 269.1,560.5 282.3,560.5 295.5,560.5 308.7,560.5 321.9,560.5 335.1,560.5 348.3,560.5 361.5,560.5 374.7,560.5 387.9,560.5 401.0,560.5 414.2,560.5 427.4,560.5 440.6,559.0 453.8,557.5 467.0,555.6 480.2,559.0 493.4,560.5 506.6,560.5 519.8,560.5 532.9,560.5 546.1,560.5 559.3,560.5 572.5,560.5 585.7,560.5 598.9,560.5 612.1,560.5 625.3,560.5 638.5,560.5 651.6,560.5 664.8,560.5 678.0,560.5 691.2,560.5 704.4,560.5 717.6,560.5 730.8,560.5 744.0,560.5 757.2,560.5 770.4,560.5 783.5,560.5 796.7,560.5 809.9,560.5" fill="none" stroke="#00f020" stroke-width="1.1" stroke-linejoin="round" />
<polyline points="190.0,560.5 203.2,560.5 216.4,560.5 229.6,560.5 242.8,560.5 255.9,560.5 269.1,560.5 282.3,560.5 295.5,560.5 308.7,560.5 321.9,560.5 335.1,560.5 348.3,560.5 361.5,560.5 374.7,560.5 387.9,560.5 401.0,558.0 414.2,556.5 427.4,556.8 440.6,558.5 453.8,560.5 467.0,560.5 480.2,560.5 493.4,560.5 506.6,560.5 519.8,560.5 532.9,560.5 546.1,560.5 559.3,560.5 572.5,560.5 585.7,560.5 598.9,560.5 612.1,560.5 625.3,560.5 638.5,560.5 651.6,560.5 664.8,560.5 678.0,560.5 691.2,560.5 704.4,560.5 717.6,560.5 730.8,560.5 744.0,560.5 757.2,560.5 770.4,560.5 783.5,560.5 796.7,560.5 809.9,560.5" fill="none" stroke="#00e828" stroke-width="1.1" stroke-linejoin="round" />
<polyline points="190.0,560.5 203.2,560.5 216.4,560.5 229.6,560.5 242.8,560.5 255.9,560.5 269.1,560.5 282.3,560.5 295.5,560.5 308.7,560.5 321.9,560.5 335.1,560.5 348.3,560.5 361.5,560.5 374.7,560.5 387.9,560.5 401.0,560.5 414.2,560.5 427.4,560.5 440.6,560.5 453.8,560.5 467.0,560.5 480.2,560.5 493.4,560.5 506.6,560.5 519.8,536.6 532.9,553.0 546.1,560.5 559.3,560.5 572.5,560.5 585.7,560.5 598.9,560.5 612.1,560.5 625.3,560.5 638.5,560.5 651.6,560.5 664.8,560.5 678.0,560.5 691.2,560.5 704.4,560.5 717.6,560.5 730.8,560.5 744.0,560.5 757.2,560.5 770.4,560.5 783.5,560.5 796.7,560.5 809.9,560.5" fill="none" stroke="#f8f000" stroke-width="1.1" stroke-linejoin="round" />
<polyline points="190.0,560.5 203.2,560.5 216.4,560.5 229.6,560.5 242.8,560.5 255.9,560.5 269.1,560.5 282.3,560.5 295.5,560.5 308.7,560.5 321.9,560.5 335.1,560.5 348.3,560.5 361.5,560.5 374.7,560.5 387.9,560.5 401.0,560.5 414.2,560.5 427.4,560.5 440.6,560.5 453.8,560.5 467.0,560.5 480.2,560.5 493.4,560.5 506.6,560.5 519.8,560.5 532.9,560.5 546.1,541.5 559.3,560.5 572.5,560.5 585.7,560.5 598.9,560.5 612.1,560.5 625.3,560.5 638.5,560.5 651.6,560.5 664.8,560.5 678.0,560.5 691.2,560.5 704.4,560.5 717.6,560.5 730.8,560.5 744.0,560.5 757.2,560.5 770.4,560.5 783.5,560.5 796.7,560.5 809.9,560.5" fill="none" stroke="#00e8b0" stroke-width="1.1" stroke-linejoin="round" />
<polyline points="190.0,560.5 203.2,560.5 216.4,560.5 229.6,560.5 242.8,560.5 255.9,560.5 269.1,560.5 282.3,560.5 295.5,560.5 308.7,560.5 321.9,560.5 335.1,560.5 348.3,560.5 361.5,560.5 374.7,560.5 387.9,560.5 401.0,560.5 414.2,560.5 427.4,560.5 440.6,560.5 453.8,560.5 467.0,560.5 480.2,560.5 493.4,560.5 506.6,560.5 519.8,558.5 532.9,556.8 546.1,560.5 559.3,560.5 572.5,560.5 585.7,560.5 598.9,560.5 612.1,560.5 625.3,560.5 638.5,560.5 651.6,560.5 664.8,560.5 678.0,560.5 691.2,560.5 704.4,560.5 717.6,560.5 730.8,560.5 744.0,560.5 757.2,560.5 770.4,560.5 783.5,560.5 796.7,560.5 809.9,560.5" fill="none" stroke="#0060ff" stroke-width="1.1" stroke-linejoin="round" />
<polyline points="190.0,560.5 203.2,560.5 216.4,560.5 229.6,560.5 242.8,560.5 255.9,560.5 269.1,560.5 282.3,560.5 295.5,560.5 308.7,560.5 321.9,560.5 335.1,560.5 348.3,560.5 361.5,560.5 374.7,560.5 387.9,560.5 401.0,560.5 414.2,560.5 427.4,560.5 440.6,560.5 453.8,560.5 467.0,560.5 480.2,560.5 493.4,560.5 506.6,560.5 519.8,560.5 532.9,560.5 546.1,560.5 559.3,560.5 572.5,560.5 585.7,560.5 598.9,557.0 612.1,553.0 625.3,556.0 638.5,560.5 651.6,560.5 664.8,560.5 678.0,560.5 691.2,560.5 704.4,560.5 717.6,560.5 730.8,560.5 744.0,560.5 757.2,560.5 770.4,560.5 783.5,560.5 796.7,560.5 809.9,560.5" fill="none" stroke="#ff9800" stroke-width="1.1" stroke-linejoin="round" />
<polyline points="190.0,560.5 203.2,560.5 216.4,560.5 229.6,560.5 242.8,560.5 255.9,560.5 269.1,560.5 282.3,560.5 295.5,560.5 308.7,560.5 321.9,560.5 335.1,560.5 348.3,560.5 361.5,560.5 374.7,560.5 387.9,560.5 401.0,560.5 414.2,560.5 427.4,560.5 440.6,560.5 453.8,560.5 467.0,560.5 480.2,560.5 493.4,560.5 506.6,560.5 519.8,560.5 532.9,560.5 546.1,560.5 559.3,560.5 572.5,560.5 585.7,560.5 598.9,560.5 612.1,557.0 625.3,548.0 638.5,552.6 651.6,558.0 664.8,560.5 678.0,560.5 691.2,560.5 704.4,560.5 717.6,560.5 730.8,560.5 744.0,560.5 757.2,560.5 770.4,560.5 783.5,560.5 796.7,560.5 809.9,560.5" fill="none" stroke="#ff6800" stroke-width="1.1" stroke-linejoin="round" />
<polyline points="190.0,560.5 203.2,560.5 216.4,560.5 229.6,560.5 242.8,560.5 255.9,560.5 269.1,560.5 282.3,560.5 295.5,560.5 308.7,560.5 321.9,560.5 335.1,560.5 348.3,560.5 361.5,560.5 374.7,560.5 387.9,560.5 401.0,560.5 414.2,560.5 427.4,560.5 440.6,560.5 453.8,560.5 467.0,560.5 480.2,560.5 493.4,560.5 506.6,560.5 519.8,560.5 532.9,560.5 546.1,560.5 559.3,560.5 572.5,560.5 585.7,560.5 598.9,560.5 612.1,558.0 625.3,552.0 638.5,553.5 651.6,557.0 664.8,558.5 678.0,560.5 691.2,560.5 704.4,560.5 717.6,560.5 730.8,560.5 744.0,560.5 757.2,560.5 770.4,560.5 783.5,560.5 796.7,560.5 809.9,560.5" fill="none" stroke="#00e8b0" stroke-width="1.1" stroke-linejoin="round" />
<polyline points="190.0,560.5 203.2,560.5 216.4,560.5 229.6,560.5 242.8,560.5 255.9,560.5 269.1,560.5 282.3,560.5 295.5,560.5 308.7,560.5 321.9,560.5 335.1,560.5 348.3,560.5 361.5,560.5 374.7,560.5 387.9,560.5 401.0,560.5 414.2,560.5 427.4,560.5 440.6,560.5 453.8,560.5 467.0,560.5 480.2,560.5 493.4,560.5 506.6,560.5 519.8,560.5 532.9,560.5 546.1,560.5 559.3,560.5 572.5,560.5 585.7,560.5 598.9,560.5 612.1,560.5 625.3,560.5 638.5,511.9 651.6,551.9 664.8,558.0 678.0,560.5 691.2,560.5 704.4,560.5 717.6,560.5 730.8,560.5 744.0,560.5 757.2,560.5 770.4,560.5 783.5,560.5 796.7,560.5 809.9,560.5" fill="none" stroke="#00c8ff" stroke-width="1.1" stroke-linejoin="round" />
<polyline points="190.0,560.5 203.2,560.5 216.4,560.5 229.6,560.5 242.8,560.5 255.9,560.5 269.1,560.5 282.3,560.5 295.5,560.5 308.7,560.5 321.9,560.5 335.1,560.5 348.3,560.5 361.5,560.5 374.7,560.5 387.9,560.5 401.0,560.5 414.2,560.5 427.4,560.5 440.6,560.5 453.8,560.5 467.0,560.5 480.2,560.5 493.4,560.5 506.6,560.5 519.8,560.5 532.9,560.5 546.1,560.5 559.3,560.5 572.5,560.5 585.7,560.5 598.9,560.5 612.1,560.5 625.3,560.5 638.5,560.5 651.6,560.5 664.8,533.4 678.0,560.5 691.2,560.5 704.4,560.5 717.6,560.5 730.8,560.5 744.0,560.5 757.2,560.5 770.4,560.5 783.5,560.5 796.7,560.5 809.9,560.5" fill="none" stroke="#00e8ff" stroke-width="1.1" stroke-linejoin="round" />
<polyline points="190.0,560.5 203.2,560.5 216.4,560.5 229.6,560.5 242.8,560.5 255.9,560.5 269.1,560.5 282.3,560.5 295.5,560.5 308.7,560.5 321.9,560.5 335.1,560.5 348.3,560.5 361.5,560.5 374.7,560.5 387.9,560.5 401.0,560.5 414.2,560.5 427.4,560.5 440.6,560.5 453.8,560.5 467.0,560.5 480.2,560.5 493.4,560.5 506.6,560.5 519.8,560.5 532.9,560.5 546.1,560.5 559.3,560.5 572.5,560.5 585.7,560.5 598.9,560.5 612.1,560.5 625.3,560.5 638.5,556.0 651.6,531.6 664.8,552.6 678.0,558.0 691.2,560.5 704.4,560.5 717.6,560.5 730.8,560.5 744.0,560.5 757.2,560.5 770.4,560.5 783.5,560.5 796.7,560.5 809.9,560.5" fill="none" stroke="#00f020" stroke-width="1.1" stroke-linejoin="round" />
<polyline points="190.0,560.5 203.2,560.5 216.4,560.5 229.6,560.5 242.8,560.5 255.9,560.5 269.1,560.5 282.3,560.5 295.5,560.5 308.7,560.5 321.9,560.5 335.1,560.5 348.3,560.5 361.5,560.5 374.7,560.5 387.9,560.5 401.0,560.5 414.2,560.5 427.4,560.5 440.6,560.5 453.8,560.5 467.0,560.5 480.2,560.5 493.4,560.5 506.6,560.5 519.8,560.5 532.9,560.5 546.1,560.5 559.3,560.5 572.5,560.5 585.7,560.5 598.9,560.5 612.1,560.5 625.3,560.5 638.5,560.5 651.6,560.5 664.8,560.5 678.0,560.5 691.2,505.6 704.4,542.5 717.6,558.0 730.8,560.5 744.0,560.5 757.2,560.5 770.4,560.5 783.5,560.5 796.7,560.5 809.9,560.5" fill="none" stroke="#00f020" stroke-width="1.1" stroke-linejoin="round" />
<polyline points="190.0,560.5 203.2,560.5 216.4,560.5 229.6,560.5 242.8,560.5 255.9,560.5 269.1,560.5 282.3,560.5 295.5,560.5 308.7,560.5 321.9,560.5 335.1,560.5 348.3,560.5 361.5,560.5 374.7,560.5 387.9,560.5 401.0,560.5 414.2,560.5 427.4,560.5 440.6,560.5 453.8,560.5 467.0,560.5 480.2,560.5 493.4,560.5 506.6,560.5 519.8,560.5 532.9,560.5 546.1,560.5 559.3,560.5 572.5,560.5 585.7,560.5 598.9,560.5 612.1,560.5 625.3,560.5 638.5,560.5 651.6,560.5 664.8,558.0 678.0,556.0 691.2,555.5 704.4,557.0 717.6,556.0 730.8,558.5 744.0,560.5 757.2,560.5 770.4,560.5 783.5,560.5 796.7,560.5 809.9,560.5" fill="none" stroke="#ffc800" stroke-width="1.1" stroke-linejoin="round" />
<polyline points="190.0,560.5 203.2,560.5 216.4,560.5 229.6,560.5 242.8,560.5 255.9,560.5 269.1,560.5 282.3,560.5 295.5,560.5 308.7,560.5 321.9,560.5 335.1,560.5 348.3,560.5 361.5,560.5 374.7,560.5 387.9,560.5 401.0,560.5 414.2,560.5 427.4,560.5 440.6,560.5 453.8,560.5 467.0,560.5 480.2,560.5 493.4,560.5 506.6,560.5 519.8,560.5 532.9,560.5 546.1,560.5 559.3,560.5 572.5,560.5 585.7,560.5 598.9,560.5 612.1,560.5 625.3,560.5 638.5,560.5 651.6,560.5 664.8,560.5 678.0,560.5 691.2,558.0 704.4,556.5 717.6,558.0 730.8,560.5 744.0,560.5 757.2,560.5 770.4,560.5 783.5,560.5 796.7,560.5 809.9,560.5" fill="none" stroke="#00e870" stroke-width="1.1" stroke-linejoin="round" />
<polyline points="190.0,560.5 203.2,560.5 216.4,560.5 229.6,560.5 242.8,560.5 255.9,560.5 269.1,560.5 282.3,560.5 295.5,560.5 308.7,560.5 321.9,560.5 335.1,560.5 348.3,560.5 361.5,560.5 374.7,560.5 387.9,560.5 401.0,560.5 414.2,560.5 427.4,560.5 440.6,560.5 453.8,560.5 467.0,560.5 480.2,560.5 493.4,560.5 506.6,560.5 519.8,560.5 532.9,560.5 546.1,560.5 559.3,560.5 572.5,560.5 585.7,560.5 598.9,560.5 612.1,560.5 625.3,560.5 638.5,560.5 651.6,560.5 664.8,560.5 678.0,560.5 691.2,560.5 704.4,560.5 717.6,560.5 730.8,560.5 744.0,546.8 757.2,560.5 770.4,560.5 783.5,560.5 796.7,560.5 809.9,560.5" fill="none" stroke="#0030ff" stroke-width="1.1" stroke-linejoin="round" />
<polyline points="190.0,560.5 203.2,560.5 216.4,560.5 229.6,560.5 242.8,560.5 255.9,560.5 269.1,560.5 282.3,560.5 295.5,560.5 308.7,560.5 321.9,560.5 335.1,560.5 348.3,560.5 361.5,560.5 374.7,560.5 387.9,560.5 401.0,560.5 414.2,560.5 427.4,560.5 440.6,560.5 453.8,560.5 467.0,560.5 480.2,560.5 493.4,560.5 506.6,560.5 519.8,560.5 532.9,560.5 546.1,560.5 559.3,560.5 572.5,560.5 585.7,560.5 598.9,560.5 612.1,560.5 625.3,560.5 638.5,560.5 651.6,560.5 664.8,560.5 678.0,560.5 691.2,560.5 704.4,560.5 717.6,560.5 730.8,558.0 744.0,556.5 757.2,553.0 770.4,556.5 783.5,558.5 796.7,560.5 809.9,560.5" fill="none" stroke="#ffc800" stroke-width="1.1" stroke-linejoin="round" />
<polyline points="190.0,560.5 203.2,560.5 216.4,560.5 229.6,560.5 242.8,560.5 255.9,560.5 269.1,560.5 282.3,560.5 295.5,560.5 308.7,560.5 321.9,560.5 335.1,560.5 348.3,560.5 361.5,560.5 374.7,560.5 387.9,560.5 401.0,560.5 414.2,560.5 427.4,560.5 440.6,560.5 453.8,560.5 467.0,560.5 480.2,560.5 493.4,560.5 506.6,560.5 519.8,560.5 532.9,560.5 546.1,560.5 559.3,560.5 572.5,560.5 585.7,560.5 598.9,560.5 612.1,560.5 625.3,560.5 638.5,560.5 651.6,560.5 664.8,560.5 678.0,560.5 691.2,560.5 704.4,560.5 717.6,560.5 730.8,560.5 744.0,556.0 757.2,557.5 770.4,560.5 783.5,560.5 796.7,560.5 809.9,560.5" fill="none" stroke="#f06020" stroke-width="1.1" stroke-linejoin="round" />
<polyline points="190.0,560.5 203.2,560.5 216.4,560.5 229.6,560.5 242.8,560.5 255.9,560.5 269.1,560.5 282.3,560.5 295.5,560.5 308.7,560.5 321.9,560.5 335.1,560.5 348.3,560.5 361.5,560.5 374.7,560.5 387.9,560.5 401.0,560.5 414.2,560.5 427.4,560.5 440.6,560.5 453.8,560.5 467.0,560.5 480.2,560.5 493.4,560.5 506.6,560.5 519.8,560.5 532.9,560.5 546.1,560.5 559.3,560.5 572.5,560.5 585.7,560.5 598.9,560.5 612.1,560.5 625.3,560.5 638.5,560.5 651.6,560.5 664.8,560.5 678.0,560.5 691.2,560.5 704.4,560.5 717.6,560.5 730.8,560.5 744.0,560.5 757.2,560.5 770.4,558.0 783.5,536.0 796.7,539.0 809.9,552.6" fill="none" stroke="#e04820" stroke-width="1.1" stroke-linejoin="round" />
<polyline points="190.0,560.5 203.2,560.5 216.4,560.5 229.6,560.5 242.8,560.5 255.9,560.5 269.1,560.5 282.3,560.5 295.5,560.5 308.7,560.5 321.9,560.5 335.1,560.5 348.3,560.5 361.5,560.5 374.7,560.5 387.9,560.5 401.0,560.5 414.2,560.5 427.4,560.5 440.6,560.5 453.8,560.5 467.0,560.5 480.2,560.5 493.4,560.5 506.6,560.5 519.8,560.5 532.9,560.5 546.1,560.5 559.3,560.5 572.5,560.5 585.7,560.5 598.9,560.5 612.1,560.5 625.3,560.5 638.5,560.5 651.6,560.5 664.8,560.5 678.0,560.5 691.2,560.5 704.4,560.5 717.6,560.5 730.8,560.5 744.0,560.5 757.2,560.5 770.4,560.5 783.5,558.0 796.7,544.3 809.9,545.5" fill="none" stroke="#00f020" stroke-width="1.1" stroke-linejoin="round" />
<polyline points="190.0,560.5 203.2,560.5 216.4,560.5 229.6,560.5 242.8,560.5 255.9,560.5 269.1,560.5 282.3,560.5 295.5,560.5 308.7,560.5 321.9,560.5 335.1,559.4 348.3,558.9 361.5,559.3 374.7,559.4 387.9,560.5 401.0,559.0 414.2,558.6 427.4,558.6 440.6,559.4 453.8,560.5 467.0,560.5 480.2,560.5 493.4,560.5 506.6,559.6 519.8,559.0 532.9,558.8 546.1,558.8 559.3,559.3 572.5,560.5 585.7,560.5 598.9,560.5 612.1,559.0 625.3,558.5 638.5,557.9 651.6,558.2 664.8,558.4 678.0,558.6 691.2,557.9 704.4,558.5 717.6,559.2 730.8,560.5 744.0,560.5 757.2,560.5 770.4,559.4 783.5,558.8 796.7,558.5 809.9,558.6" fill="none" stroke="#ffffff" stroke-width="2.9" stroke-linejoin="round" />
</g>
<line x1="189.0" y1="560.5" x2="811.1" y2="560.5" stroke="#00e000" stroke-width="3.2"/>
<rect x="163.5" y="30.5" width="647.0" height="530.0" fill="none" stroke="#fff" stroke-width="1.1"/>
<path d="M810.5 560.50h-5.2M810.5 547.25h-3.4M810.5 534.00h-5.2M810.5 520.75h-3.4M810.5 507.50h-5.2M810.5 494.25h-3.4M810.5 481.00h-5.2M810.5 467.75h-3.4M810.5 454.50h-5.2M810.5 441.25h-3.4M810.5 428.00h-5.2M810.5 414.75h-3.4M810.5 401.50h-5.2M810.5 388.25h-3.4M810.5 375.00h-5.2M810.5 361.75h-3.4M810.5 348.50h-5.2M810.5 335.25h-3.4M810.5 322.00h-5.2M810.5 308.75h-3.4M810.5 295.50h-5.2M810.5 282.25h-3.4M810.5 269.00h-5.2M810.5 255.75h-3.4M810.5 242.50h-5.2M810.5 229.25h-3.4M810.5 216.00h-5.2M810.5 202.75h-3.4M810.5 189.50h-5.2M810.5 176.25h-3.4M810.5 163.00h-5.2M810.5 149.75h-3.4M810.5 136.50h-5.2M810.5 123.25h-3.4M810.5 110.00h-5.2M810.5 96.75h-3.4M810.5 83.50h-5.2M810.5 70.25h-3.4M810.5 57.00h-5.2M810.5 43.75h-3.4M810.5 30.50h-5.2" stroke="#fff" stroke-width="1.1" fill="none"/>
<text y="16.9" font-size="16.40" xml:space="preserve" font-weight="bold"><tspan x="129.0" textLength="67.1" lengthAdjust="spacingAndGlyphs">Miskolc</tspan>  <tspan x="207.2" textLength="41.0" lengthAdjust="spacingAndGlyphs">(HU)</tspan>  <tspan x="259.4" textLength="33.4" lengthAdjust="spacingAndGlyphs">850</tspan> <tspan x="298.4" textLength="33.5" lengthAdjust="spacingAndGlyphs">hPa</tspan> <tspan x="337.4" textLength="53.8" lengthAdjust="spacingAndGlyphs">Temp.</tspan> <tspan x="396.8" textLength="14.0" lengthAdjust="spacingAndGlyphs">&amp;</tspan> <tspan x="416.4" textLength="118.1" lengthAdjust="spacingAndGlyphs">Niederschlag</tspan> <tspan x="540.0" textLength="5.8" lengthAdjust="spacingAndGlyphs">|</tspan> <tspan x="551.4" textLength="44.4" lengthAdjust="spacingAndGlyphs">Mon,</tspan> <tspan x="601.3" textLength="100.4" lengthAdjust="spacingAndGlyphs">13Dec2021</tspan> <tspan x="707.3" textLength="33.9" lengthAdjust="spacingAndGlyphs">06Z</tspan></text>
<text y="563.6" font-size="11.00" xml:space="preserve"><tspan x="137.6" textLength="17.4" lengthAdjust="spacingAndGlyphs">-30</tspan></text>
<text y="504.7" font-size="11.00" xml:space="preserve"><tspan x="137.6" textLength="17.4" lengthAdjust="spacingAndGlyphs">-25</tspan></text>
<text y="445.8" font-size="11.00" xml:space="preserve"><tspan x="137.6" textLength="17.4" lengthAdjust="spacingAndGlyphs">-20</tspan></text>
<text y="386.9" font-size="11.00" xml:space="preserve"><tspan x="137.6" textLength="17.4" lengthAdjust="spacingAndGlyphs">-15</tspan></text>
<text y="328.0" font-size="11.00" xml:space="preserve"><tspan x="137.6" textLength="17.4" lengthAdjust="spacingAndGlyphs">-10</tspan></text>
<text y="269.2" font-size="11.00" xml:space="preserve"><tspan x="144.4" textLength="10.6" lengthAdjust="spacingAndGlyphs">-5</tspan></text>
<text y="210.3" font-size="11.00" xml:space="preserve"><tspan x="148.2" textLength="6.8" lengthAdjust="spacingAndGlyphs">0</tspan></text>
<text y="151.4" font-size="11.00" xml:space="preserve"><tspan x="148.2" textLength="6.8" lengthAdjust="spacingAndGlyphs">5</tspan></text>
<text y="92.5" font-size="11.00" xml:space="preserve"><tspan x="141.4" textLength="13.6" lengthAdjust="spacingAndGlyphs">10</tspan></text>
<text y="33.6" font-size="11.00" xml:space="preserve"><tspan x="141.4" textLength="13.6" lengthAdjust="spacingAndGlyphs">15</tspan></text>
<text y="563.3" font-size="11.00" xml:space="preserve"><tspan x="817.5" textLength="6.8" lengthAdjust="spacingAndGlyphs">0</tspan></text>
<text y="430.8" font-size="11.00" xml:space="preserve"><tspan x="817.5" textLength="13.6" lengthAdjust="spacingAndGlyphs">10</tspan></text>
<text y="298.3" font-size="11.00" xml:space="preserve"><tspan x="817.5" textLength="13.6" lengthAdjust="spacingAndGlyphs">20</tspan></text>
<text y="165.8" font-size="11.00" xml:space="preserve"><tspan x="817.5" textLength="13.6" lengthAdjust="spacingAndGlyphs">30</tspan></text>
<text y="33.3" font-size="11.00" xml:space="preserve"><tspan x="817.5" textLength="13.6" lengthAdjust="spacingAndGlyphs">40</tspan></text>
<text y="577.2" font-size="11.00" xml:space="preserve"><tspan x="134.3" textLength="34.2" lengthAdjust="spacingAndGlyphs">13Dec</tspan> <tspan x="171.9" textLength="19.2" lengthAdjust="spacingAndGlyphs">00z</tspan></text>
<text y="577.2" font-size="11.00" xml:space="preserve"><tspan x="239.9" textLength="34.2" lengthAdjust="spacingAndGlyphs">15Dec</tspan> <tspan x="277.6" textLength="19.2" lengthAdjust="spacingAndGlyphs">00z</tspan></text>
<text y="577.2" font-size="11.00" xml:space="preserve"><tspan x="345.6" textLength="34.2" lengthAdjust="spacingAndGlyphs">17Dec</tspan> <tspan x="383.2" textLength="19.2" lengthAdjust="spacingAndGlyphs">00z</tspan></text>
<text y="577.2" font-size="11.00" xml:space="preserve"><tspan x="451.2" textLength="34.2" lengthAdjust="spacingAndGlyphs">19Dec</tspan> <tspan x="488.8" textLength="19.2" lengthAdjust="spacingAndGlyphs">00z</tspan></text>
<text y="577.2" font-size="11.00" xml:space="preserve"><tspan x="556.9" textLength="34.2" lengthAdjust="spacingAndGlyphs">21Dec</tspan> <tspan x="594.5" textLength="19.2" lengthAdjust="spacingAndGlyphs">00z</tspan></text>
<text y="577.2" font-size="11.00" xml:space="preserve"><tspan x="662.5" textLength="34.2" lengthAdjust="spacingAndGlyphs">23Dec</tspan> <tspan x="700.1" textLength="19.2" lengthAdjust="spacingAndGlyphs">00z</tspan></text>
<text y="577.2" font-size="11.00" xml:space="preserve"><tspan x="768.1" textLength="34.2" lengthAdjust="spacingAndGlyphs">25Dec</tspan> <tspan x="805.8" textLength="19.2" lengthAdjust="spacingAndGlyphs">00z</tspan></text>
<text y="593.0" font-size="11.00" xml:space="preserve"><tspan x="457.3" textLength="25.5" lengthAdjust="spacingAndGlyphs">Date</tspan> <tspan x="486.2" textLength="29.5" lengthAdjust="spacingAndGlyphs">(UTC)</tspan></text>
<text y="604.6" font-size="16.30" xml:space="preserve"><tspan x="120.0" textLength="31.5" lengthAdjust="spacingAndGlyphs">GFS</tspan> <tspan x="156.6" textLength="83.5" lengthAdjust="spacingAndGlyphs">Ensemble,</tspan> <tspan x="245.2" textLength="37.4" lengthAdjust="spacingAndGlyphs">48N,</tspan> <tspan x="287.7" textLength="30.5" lengthAdjust="spacingAndGlyphs">21E</tspan></text>
<text y="604.4" font-size="16.30" xml:space="preserve"><tspan x="650.3" textLength="144.1" lengthAdjust="spacingAndGlyphs">Wetterzentrale.de</tspan></text>
<g transform="translate(135.3,295.8) rotate(-90)"><text y="0.0" font-size="11.00" xml:space="preserve"><tspan x="-51.4" textLength="20.4" lengthAdjust="spacingAndGlyphs">850</tspan> <tspan x="-27.6" textLength="19.3" lengthAdjust="spacingAndGlyphs">hPa</tspan> <tspan x="-5.0" textLength="31.8" lengthAdjust="spacingAndGlyphs">Temp.</tspan> <tspan x="30.3" textLength="21.1" lengthAdjust="spacingAndGlyphs">(°C)</tspan></text></g>
<g transform="translate(843.4,296.5) rotate(-90)"><text y="0.0" font-size="11.00" xml:space="preserve"><tspan x="-51.1" textLength="69.7" lengthAdjust="spacingAndGlyphs">Niederschlag</tspan> <tspan x="22.0" textLength="29.1" lengthAdjust="spacingAndGlyphs">(mm)</tspan></text></g>
<line x1="0" y1="41.8" x2="8" y2="41.8" stroke="#4000ff" stroke-width="2"/>
<text y="43.9" font-size="11.00" xml:space="preserve"><tspan x="8.5" textLength="38.6" lengthAdjust="spacingAndGlyphs">Control</tspan></text>
<line x1="53" y1="41.8" x2="64" y2="41.8" stroke="#0030ff" stroke-width="2"/>
<text y="43.9" font-size="11.00" xml:space="preserve"><tspan x="63.9" textLength="13.2" lengthAdjust="spacingAndGlyphs">P1</tspan></text>
<line x1="0" y1="56.8" x2="8" y2="56.8" stroke="#0060ff" stroke-width="2"/>
<text y="58.9" font-size="11.00" xml:space="preserve"><tspan x="8.5" textLength="13.2" lengthAdjust="spacingAndGlyphs">P2</tspan></text>
<line x1="53" y1="56.8" x2="64" y2="56.8" stroke="#0098ff" stroke-width="2"/>
<text y="58.9" font-size="11.00" xml:space="preserve"><tspan x="63.9" textLength="13.2" lengthAdjust="spacingAndGlyphs">P3</tspan></text>
<line x1="0" y1="71.8" x2="8" y2="71.8" stroke="#00c0ff" stroke-width="2"/>
<text y="73.9" font-size="11.00" xml:space="preserve"><tspan x="8.5" textLength="13.2" lengthAdjust="spacingAndGlyphs">P4</tspan></text>
<line x1="53" y1="71.8" x2="64" y2="71.8" stroke="#00e8ff" stroke-width="2"/>
<text y="73.9" font-size="11.00" xml:space="preserve"><tspan x="63.9" textLength="13.2" lengthAdjust="spacingAndGlyphs">P5</tspan></text>
<line x1="0" y1="86.8" x2="8" y2="86.8" stroke="#00e8b0" stroke-width="2"/>
<text y="88.9" font-size="11.00" xml:space="preserve"><tspan x="8.5" textLength="13.2" lengthAdjust="spacingAndGlyphs">P6</tspan></text>
<line x1="53" y1="86.8" x2="64" y2="86.8" stroke="#00e878" stroke-width="2"/>
<text y="88.9" font-size="11.00" xml:space="preserve"><tspan x="63.9" textLength="13.2" lengthAdjust="spacingAndGlyphs">P7</tspan></text>
<line x1="0" y1="101.8" x2="8" y2="101.8" stroke="#00e850" stroke-width="2"/>
<text y="103.9" font-size="11.00" xml:space="preserve"><tspan x="8.5" textLength="13.2" lengthAdjust="spacingAndGlyphs">P8</tspan></text>
<line x1="53" y1="101.8" x2="64" y2="101.8" stroke="#00e828" stroke-width="2"/>
<text y="103.9" font-size="11.00" xml:space="preserve"><tspan x="63.9" textLength="13.2" lengthAdjust="spacingAndGlyphs">P9</tspan></text>
<line x1="0" y1="116.8" x2="8" y2="116.8" stroke="#00f000" stroke-width="2"/>
<text y="118.9" font-size="11.00" xml:space="preserve"><tspan x="8.5" textLength="20.0" lengthAdjust="spacingAndGlyphs">P10</tspan></text>
<line x1="53" y1="116.8" x2="64" y2="116.8" stroke="#f8f000" stroke-width="2"/>
<text y="118.9" font-size="11.00" xml:space="preserve"><tspan x="63.9" textLength="20.0" lengthAdjust="spacingAndGlyphs">P11</tspan></text>
<line x1="0" y1="131.8" x2="8" y2="131.8" stroke="#ffe000" stroke-width="2"/>
<text y="133.9" font-size="11.00" xml:space="preserve"><tspan x="8.5" textLength="20.0" lengthAdjust="spacingAndGlyphs">P12</tspan></text>
<line x1="53" y1="131.8" x2="64" y2="131.8" stroke="#ffc800" stroke-width="2"/>
<text y="133.9" font-size="11.00" xml:space="preserve"><tspan x="63.9" textLength="20.0" lengthAdjust="spacingAndGlyphs">P13</tspan></text>
<line x1="0" y1="146.8" x2="8" y2="146.8" stroke="#ffb000" stroke-width="2"/>
<text y="148.9" font-size="11.00" xml:space="preserve"><tspan x="8.5" textLength="20.0" lengthAdjust="spacingAndGlyphs">P14</tspan></text>
<line x1="53" y1="146.8" x2="64" y2="146.8" stroke="#ff9800" stroke-width="2"/>
<text y="148.9" font-size="11.00" xml:space="preserve"><tspan x="63.9" textLength="20.0" lengthAdjust="spacingAndGlyphs">P15</tspan></text>
<line x1="0" y1="161.8" x2="8" y2="161.8" stroke="#ff8800" stroke-width="2"/>
<text y="163.9" font-size="11.00" xml:space="preserve"><tspan x="8.5" textLength="20.0" lengthAdjust="spacingAndGlyphs">P16</tspan></text>
<line x1="53" y1="161.8" x2="64" y2="161.8" stroke="#ff6800" stroke-width="2"/>
<text y="163.9" font-size="11.00" xml:space="preserve"><tspan x="63.9" textLength="20.0" lengthAdjust="spacingAndGlyphs">P17</tspan></text>
<line x1="0" y1="176.8" x2="8" y2="176.8" stroke="#f06020" stroke-width="2"/>
<text y="178.9" font-size="11.00" xml:space="preserve"><tspan x="8.5" textLength="20.0" lengthAdjust="spacingAndGlyphs">P18</tspan></text>
<line x1="53" y1="176.8" x2="64" y2="176.8" stroke="#e04820" stroke-width="2"/>
<text y="178.9" font-size="11.00" xml:space="preserve"><tspan x="63.9" textLength="20.0" lengthAdjust="spacingAndGlyphs">P19</tspan></text>
<line x1="0" y1="191.8" x2="8" y2="191.8" stroke="#c02020" stroke-width="2"/>
<text y="193.9" font-size="11.00" xml:space="preserve"><tspan x="8.5" textLength="20.0" lengthAdjust="spacingAndGlyphs">P20</tspan></text>
<line x1="53" y1="191.8" x2="64" y2="191.8" stroke="#0060ff" stroke-width="2"/>
<text y="193.9" font-size="11.00" xml:space="preserve"><tspan x="63.9" textLength="20.0" lengthAdjust="spacingAndGlyphs">P21</tspan></text>
<line x1="0" y1="206.8" x2="8" y2="206.8" stroke="#0098ff" stroke-width="2"/>
<text y="208.9" font-size="11.00" xml:space="preserve"><tspan x="8.5" textLength="20.0" lengthAdjust="spacingAndGlyphs">P22</tspan></text>
<line x1="53" y1="206.8" x2="64" y2="206.8" stroke="#00c8ff" stroke-width="2"/>
<text y="208.9" font-size="11.00" xml:space="preserve"><tspan x="63.9" textLength="20.0" lengthAdjust="spacingAndGlyphs">P23</tspan></text>
<line x1="0" y1="221.8" x2="8" y2="221.8" stroke="#00e8ff" stroke-width="2"/>
<text y="223.9" font-size="11.00" xml:space="preserve"><tspan x="8.5" textLength="20.0" lengthAdjust="spacingAndGlyphs">P24</tspan></text>
<line x1="53" y1="221.8" x2="64" y2="221.8" stroke="#00e8b0" stroke-width="2"/>
<text y="223.9" font-size="11.00" xml:space="preserve"><tspan x="63.9" textLength="20.0" lengthAdjust="spacingAndGlyphs">P25</tspan></text>
<line x1="0" y1="236.8" x2="8" y2="236.8" stroke="#00e870" stroke-width="2"/>
<text y="238.9" font-size="11.00" xml:space="preserve"><tspan x="8.5" textLength="20.0" lengthAdjust="spacingAndGlyphs">P26</tspan></text>
<line x1="53" y1="236.8" x2="64" y2="236.8" stroke="#00e850" stroke-width="2"/>
<text y="238.9" font-size="11.00" xml:space="preserve"><tspan x="63.9" textLength="20.0" lengthAdjust="spacingAndGlyphs">P27</tspan></text>
<line x1="0" y1="251.8" x2="8" y2="251.8" stroke="#00f020" stroke-width="2"/>
<text y="253.9" font-size="11.00" xml:space="preserve"><tspan x="8.5" textLength="20.0" lengthAdjust="spacingAndGlyphs">P28</tspan></text>
<line x1="53" y1="251.8" x2="64" y2="251.8" stroke="#00f000" stroke-width="2"/>
<text y="253.9" font-size="11.00" xml:space="preserve"><tspan x="63.9" textLength="20.0" lengthAdjust="spacingAndGlyphs">P29</tspan></text>
<line x1="0" y1="266.8" x2="8" y2="266.8" stroke="#fff000" stroke-width="2"/>
<text y="268.9" font-size="11.00" xml:space="preserve"><tspan x="8.5" textLength="20.0" lengthAdjust="spacingAndGlyphs">P30</tspan></text>
<line x1="53" y1="266.8" x2="64" y2="266.8" stroke="#fff" stroke-width="2.6"/>
<text y="268.9" font-size="11.00" xml:space="preserve"><tspan x="63.9" textLength="22.5" lengthAdjust="spacingAndGlyphs">Ens.</tspan> <tspan x="89.7" textLength="30.3" lengthAdjust="spacingAndGlyphs">mean</tspan></text>
<line x1="53" y1="292.9" x2="64" y2="292.9" stroke="#e84040" stroke-width="2"/>
<text y="296.5" font-size="11.00" xml:space="preserve"><tspan x="63.9" textLength="58.2" lengthAdjust="spacingAndGlyphs">1981-2010</tspan></text>
<text y="306.9" font-size="11.00" xml:space="preserve"><tspan x="63.9" textLength="30.3" lengthAdjust="spacingAndGlyphs">mean</tspan></text>
<line x1="0" y1="306.9" x2="8" y2="306.9" stroke="#00e000" stroke-width="2"/>
<text y="309.0" font-size="11.00" xml:space="preserve"><tspan x="8.5" textLength="26.1" lengthAdjust="spacingAndGlyphs">Oper</tspan></text>
</svg></body></html>
